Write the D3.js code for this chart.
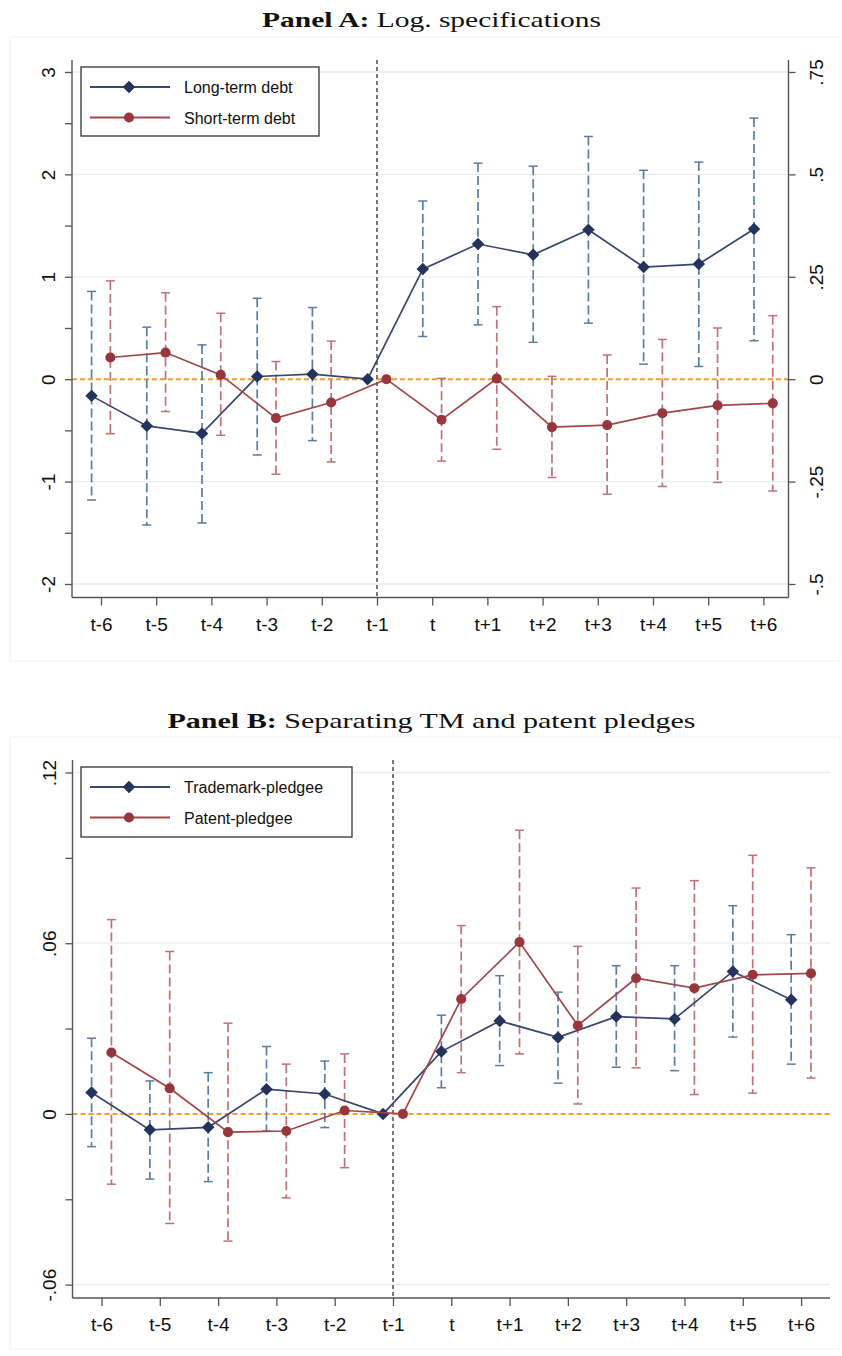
<!DOCTYPE html>
<html>
<head>
<meta charset="utf-8">
<script src="https://cdn.jsdelivr.net/npm/d3@7"></script>
<style>
  html, body { margin: 0; padding: 0; background: #ffffff; }
  svg { display: block; }
  text { font-family: "Liberation Sans", Arial, sans-serif; }
  .title { font-family: "Liberation Serif", "DejaVu Serif", serif; }
</style>
</head>
<body>
<svg id="chart" width="842" height="1356"></svg>
<script>
// ---------- data ----------
const periods = ["t-6", "t-5", "t-4", "t-3", "t-2", "t-1", "t", "t+1", "t+2", "t+3", "t+4", "t+5", "t+6"];

// Panel A: log specifications (long-term on left axis, short-term on right axis)
const longTerm   = [-0.163, -0.456, -0.530, 0.026, 0.049, 0, 1.075, 1.320, 1.215, 1.460, 1.095, 1.124, 1.466];
const longLo     = [-1.180, -1.424, -1.404, -0.740, -0.600, null, 0.417, 0.530, 0.360, 0.547, 0.147, 0.124, 0.375];
const longHi     = [0.857, 0.508, 0.335, 0.790, 0.700, null, 1.740, 2.110, 2.080, 2.370, 2.040, 2.120, 2.550];
const shortTerm  = [0.053, 0.065, 0.0105, -0.095, -0.057, 0, -0.099, 0.0015, -0.117, -0.112, -0.083, -0.064, -0.059];
const shortLo    = [-0.133, -0.079, -0.137, -0.232, -0.202, null, -0.200, -0.171, -0.240, -0.281, -0.262, -0.252, -0.273];
const shortHi    = [0.240, 0.211, 0.161, 0.043, 0.093, null, 0.002, 0.177, 0.007, 0.059, 0.097, 0.125, 0.155];
const leftTicksA  = [3, 2, 1, 0, -1, -2];
const leftLabelsA = ["3", "2", "1", "0", "-1", "-2"];
const leftMinorA  = [2.5, 1.5, 0.5, -0.5, -1.5];
const rightTicksA  = [0.75, 0.5, 0.25, 0, -0.25, -0.5];
const rightLabelsA = [".75", ".5", ".25", "0", "-.25", "-.5"];

// Panel B: trademark vs patent pledges
const trademark  = [0.0075, -0.0056, -0.0047, 0.0087, 0.0070, 0, 0.0219, 0.0327, 0.0269, 0.0342, 0.0334, 0.0501, 0.0401];
const tmLo       = [-0.0115, -0.0229, -0.0238, -0.0060, -0.0048, null, 0.0092, 0.0170, 0.0108, 0.0164, 0.0152, 0.0270, 0.0175];
const tmHi       = [0.0266, 0.0116, 0.0145, 0.0237, 0.0186, null, 0.0347, 0.0486, 0.0428, 0.0521, 0.0521, 0.0732, 0.0630];
const patent     = [0.0216, 0.0090, -0.0064, -0.0060, 0.0012, 0, 0.0404, 0.0604, 0.0311, 0.0477, 0.0442, 0.0489, 0.0494];
const patLo      = [-0.0247, -0.0385, -0.0447, -0.0295, -0.0189, null, 0.0145, 0.0211, 0.0035, 0.0162, 0.0068, 0.0073, 0.0126];
const patHi      = [0.0683, 0.0571, 0.0319, 0.0175, 0.0211, null, 0.0662, 0.0997, 0.0589, 0.0794, 0.0820, 0.0909, 0.0865];
const leftTicksB  = [0.12, 0.06, 0, -0.06];
const leftLabelsB = [".12", ".06", "0", "-.06"];
const leftMinorB  = [0.09, 0.03, -0.03];

// ---------- styles ----------
const NAVY = "#22335c", NAVY_LINE = "#38476f", NAVY_CI = "#5a7ea3";
const MAROON = "#98363d", MAROON_LINE = "#a2464c", MAROON_CI = "#bf7278";
const AXIS = "#555555", GRID = "#e7eef3", ORANGE = "#f0a030";
const DIAMOND_SIZE = 78, CIRCLE_SIZE = 80;

const svg = d3.select("#chart");

function markerPath(diamond) {
  return d3.symbol().type(diamond ? d3.symbolSquare : d3.symbolCircle).size(diamond ? DIAMOND_SIZE : CIRCLE_SIZE)();
}

function drawPanel(cfg) {
  const g = svg.append("g");

  // faint outer frame of the graph region
  g.append("rect")
    .attr("x", 10).attr("y", cfg.frameTop).attr("width", 830).attr("height", cfg.frameH)
    .attr("fill", "none").attr("stroke", "#f1f1f1").attr("stroke-width", 1);

  // title
  const t = g.append("text").attr("class", "title")
    .attr("x", 431.5).attr("y", cfg.titleY)
    .attr("text-anchor", "middle").attr("font-size", 22).attr("fill", "#111")
    .attr("textLength", cfg.titleLen).attr("lengthAdjust", "spacingAndGlyphs");
  t.append("tspan").attr("font-weight", "bold").text(cfg.titleBold);
  t.append("tspan").text(cfg.titleRest);

  const x = d3.scaleLinear().domain(cfg.xDomain).range([cfg.left, cfg.right]);
  const y = d3.scaleLinear().domain(cfg.yDomain).range([cfg.bottom, cfg.top]);
  const y2 = cfg.y2Domain ? d3.scaleLinear().domain(cfg.y2Domain).range([cfg.bottom, cfg.top]) : y;

  // gridlines at labelled ticks (zero handled by reference line)
  g.append("g").selectAll("line")
    .data(cfg.leftTicks.filter(v => v !== 0))
    .join("line")
    .attr("x1", cfg.left).attr("x2", cfg.right)
    .attr("y1", d => y(d)).attr("y2", d => y(d))
    .attr("stroke", GRID).attr("stroke-width", 1.3);

  // reference lines
  g.append("line")
    .attr("x1", cfg.left).attr("x2", cfg.right)
    .attr("y1", y(0)).attr("y2", y(0))
    .attr("stroke", ORANGE).attr("stroke-width", 2).attr("stroke-dasharray", "5,3");
  g.append("line")
    .attr("x1", x(5)).attr("x2", x(5))
    .attr("y1", cfg.top).attr("y2", cfg.bottom)
    .attr("stroke", "#222").attr("stroke-width", 1.2).attr("stroke-dasharray", "4,3");

  // axes
  const leftAxis = d3.axisLeft(y).tickValues(cfg.leftTicks)
    .tickFormat((d, i) => cfg.leftLabels[i]).tickSize(7).tickPadding(0);
  const gl = g.append("g").attr("transform", `translate(${cfg.left},0)`).call(leftAxis);
  const gm = g.append("g").attr("transform", `translate(${cfg.left},0)`)
    .call(d3.axisLeft(y).tickValues(cfg.leftMinor).tickFormat("").tickSize(7));
  gm.select(".domain").remove();
  [gl, gm].forEach(a => {
    a.select(".domain").attr("stroke", AXIS).attr("stroke-width", 1.4).attr("d", `M0,${cfg.top}V${cfg.bottom}`);
    a.selectAll(".tick line").attr("stroke", AXIS).attr("stroke-width", 1.3);
  });
  gl.selectAll(".tick text")
    .attr("font-size", 19).attr("fill", "#111")
    .attr("text-anchor", "middle").attr("dy", 0)
    .attr("transform", "translate(-24,0) rotate(-90)")
    .attr("x", 0).attr("y", 7);

  if (cfg.y2Domain) {
    const rightAxis = d3.axisRight(y2).tickValues(cfg.rightTicks)
      .tickFormat((d, i) => cfg.rightLabels[i]).tickSize(7).tickPadding(0);
    const gr = g.append("g").attr("transform", `translate(${cfg.right},0)`).call(rightAxis);
    gr.select(".domain").attr("stroke", AXIS).attr("stroke-width", 1.4).attr("d", `M0,${cfg.top}V${cfg.bottom}`);
    gr.selectAll(".tick line").attr("stroke", AXIS).attr("stroke-width", 1.3);
    gr.selectAll(".tick text")
      .attr("font-size", 19).attr("fill", "#111")
      .attr("text-anchor", "middle").attr("dy", 0)
      .attr("transform", "translate(27,0) rotate(-90)")
      .attr("x", 0).attr("y", 7);
  }

  const bottomAxis = d3.axisBottom(x).tickValues(d3.range(periods.length))
    .tickFormat(i => periods[i]).tickSize(8).tickPadding(8);
  const gb = g.append("g").attr("transform", `translate(0,${cfg.bottom})`).call(bottomAxis);
  gb.select(".domain").attr("stroke", AXIS).attr("stroke-width", 1.4).attr("d", `M${cfg.left},0H${cfg.right}`);
  gb.selectAll(".tick line").attr("stroke", AXIS).attr("stroke-width", 1.3);
  gb.selectAll(".tick text").attr("font-size", 19).attr("fill", "#111").attr("dy", "0.9em");

  // confidence intervals
  cfg.series.forEach(s => {
    const ys = s.axis === 2 ? y2 : y;
    const px = i => x(i + s.offset);
    const ci = d3.range(periods.length).filter(i => s.lo[i] !== null);
    const cg = g.append("g");
    cg.selectAll("line.ci").data(ci).join("line").attr("class", "ci")
      .attr("x1", px).attr("x2", px)
      .attr("y1", i => ys(s.hi[i])).attr("y2", i => ys(s.lo[i]))
      .attr("stroke", s.ciColor).attr("stroke-width", 1.7).attr("stroke-dasharray", "9,4");
    ["hi", "lo"].forEach(k => {
      cg.selectAll(`line.cap-${k}`).data(ci).join("line").attr("class", `cap-${k}`)
        .attr("x1", i => px(i) - 4.5).attr("x2", i => px(i) + 4.5)
        .attr("y1", i => ys(s[k][i])).attr("y2", i => ys(s[k][i]))
        .attr("stroke", s.ciColor).attr("stroke-width", 1.5);
    });
  });

  // point estimates
  cfg.series.forEach(s => {
    const ys = s.axis === 2 ? y2 : y;
    const line = d3.line().x((d, i) => x(i + s.offset)).y(d => ys(d));
    g.append("path").datum(s.values).attr("d", line)
      .attr("fill", "none").attr("stroke", s.lineColor).attr("stroke-width", 1.7);
    g.append("g").selectAll("path").data(s.values).join("path")
      .attr("d", markerPath(s.diamond))
      .attr("transform", (d, i) => `translate(${x(i + s.offset)},${ys(d)})` + (s.diamond ? " rotate(45)" : ""))
      .attr("fill", s.color);
  });

  // legend
  const L = cfg.legend;
  const lg = g.append("g");
  lg.append("rect").attr("x", L.x).attr("y", L.y).attr("width", L.w).attr("height", L.h)
    .attr("fill", "#fff").attr("stroke", "#333").attr("stroke-width", 1.3);
  cfg.series.forEach((s, k) => {
    const cy = L.y + 20 + k * 30.5;
    lg.append("line").attr("x1", L.x + 9).attr("x2", L.x + 89).attr("y1", cy).attr("y2", cy)
      .attr("stroke", s.lineColor).attr("stroke-width", 1.8);
    lg.append("path").attr("d", markerPath(s.diamond))
      .attr("transform", `translate(${L.x + 48},${cy})` + (s.diamond ? " rotate(45)" : ""))
      .attr("fill", s.color);
    lg.append("text").attr("x", L.x + 103).attr("y", cy + 6)
      .attr("font-size", 16).attr("fill", "#111").text(s.name);
  });
}

drawPanel({
  frameTop: 37, frameH: 624,
  titleY: 27, titleBold: "Panel A:", titleRest: " Log. specifications", titleLen: 339,
  left: 72, right: 788.5, top: 60, bottom: 597.5,
  xDomain: [-0.525, 12.455],
  yDomain: [-2.132, 3.117],
  y2Domain: [-2.132 / 4, 3.117 / 4],
  leftTicks: leftTicksA, leftLabels: leftLabelsA, leftMinor: leftMinorA,
  rightTicks: rightTicksA, rightLabels: rightLabelsA,
  legend: { x: 81, y: 67, w: 238, h: 69 },
  series: [
    { name: "Long-term debt", values: longTerm, lo: longLo, hi: longHi, axis: 1, offset: -0.17,
      color: NAVY, lineColor: NAVY_LINE, ciColor: NAVY_CI, diamond: true },
    { name: "Short-term debt", values: shortTerm, lo: shortLo, hi: shortHi, axis: 2, offset: 0.17,
      color: MAROON, lineColor: MAROON_LINE, ciColor: MAROON_CI, diamond: false }
  ]
});

drawPanel({
  frameTop: 737, frameH: 612,
  titleY: 728, titleBold: "Panel B:", titleRest: " Separating TM and patent pledges", titleLen: 528,
  left: 72.5, right: 830, top: 760, bottom: 1298,
  xDomain: [-0.4975, 12.496],
  yDomain: [-0.0647, 0.1244],
  y2Domain: null,
  leftTicks: leftTicksB, leftLabels: leftLabelsB, leftMinor: leftMinorB,
  legend: { x: 81, y: 767, w: 271, h: 70 },
  series: [
    { name: "Trademark-pledgee", values: trademark, lo: tmLo, hi: tmHi, axis: 1, offset: -0.17,
      color: NAVY, lineColor: NAVY_LINE, ciColor: NAVY_CI, diamond: true },
    { name: "Patent-pledgee", values: patent, lo: patLo, hi: patHi, axis: 1, offset: 0.17,
      color: MAROON, lineColor: MAROON_LINE, ciColor: MAROON_CI, diamond: false }
  ]
});
</script>
</body>
</html>
